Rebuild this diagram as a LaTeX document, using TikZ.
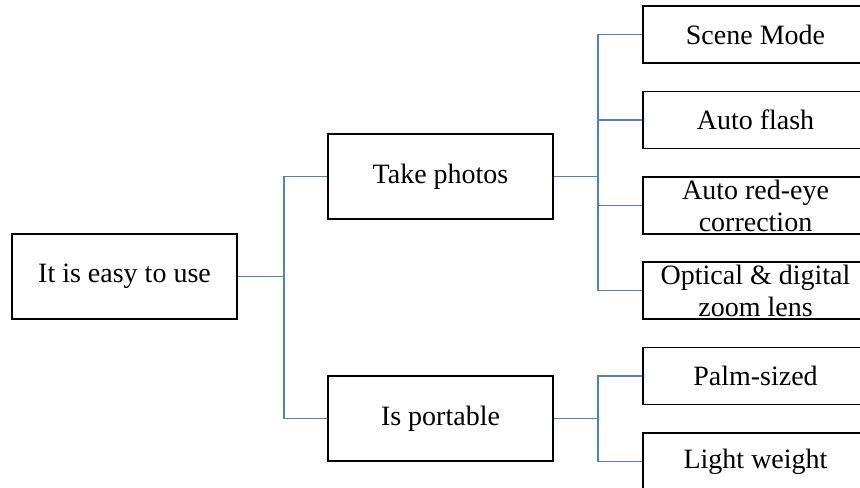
\documentclass[tikz,border=0pt]{standalone}
\usepackage{fontspec}
\setmainfont{Liberation Serif}
\definecolor{linkblue}{RGB}{79,129,189}
\begin{document}
\begin{tikzpicture}[x=0.75pt,y=-0.75pt,
  box/.style={draw=black, line width=0.8pt, inner sep=0pt, align=center,
              font=\fontsize{21pt}{24pt}\selectfont, anchor=center},
  bigbox/.style={box, minimum width=168.75pt, minimum height=63.75pt},
  leafbox/.style={box, minimum width=168.75pt, minimum height=42.75pt},
  conn/.style={draw=linkblue, line width=0.8pt}]
\useasboundingbox (0,0) rectangle (860,488);
\clip (0,0) rectangle (860,488);

% first and second levels
\node[bigbox] (root) at (124.5,276.5) {It is easy to use};
\node[bigbox] (photos) at (440.5,176.5) {Take photos};
\node[bigbox] (portable) at (440.5,418.5) {Is portable};

% leaves
\node[leafbox] (scene)  at (755.5,34.5)  {Scene Mode};
\node[leafbox] (flash)  at (755.5,120)   {Auto flash};
\node[leafbox] (redeye) at (755.5,205.5) {Auto red-eye\\correction};
\node[leafbox] (zoom)   at (755.5,290.5) {Optical \& digital\\zoom lens};
\node[leafbox] (palm)   at (755.5,376)   {Palm-sized};
\node[leafbox] (light)  at (755.5,461.5) {Light weight};

% branch points
\coordinate (j1) at (284,276.5);
\coordinate (j2) at (598,176.5);
\coordinate (j3) at (598,418.5);

% connectors
\draw[conn] (root.east) -- (j1);
\draw[conn] (j1) |- (photos.west);
\draw[conn] (j1) |- (portable.west);

\draw[conn] (photos.east) -- (j2);
\draw[conn] (j2) |- (scene.west);
\draw[conn] (j2) |- (flash.west);
\draw[conn] (j2) |- (redeye.west);
\draw[conn] (j2) |- (zoom.west);

\draw[conn] (portable.east) -- (j3);
\draw[conn] (j3) |- (palm.west);
\draw[conn] (j3) |- (light.west);
\end{tikzpicture}
\end{document}
